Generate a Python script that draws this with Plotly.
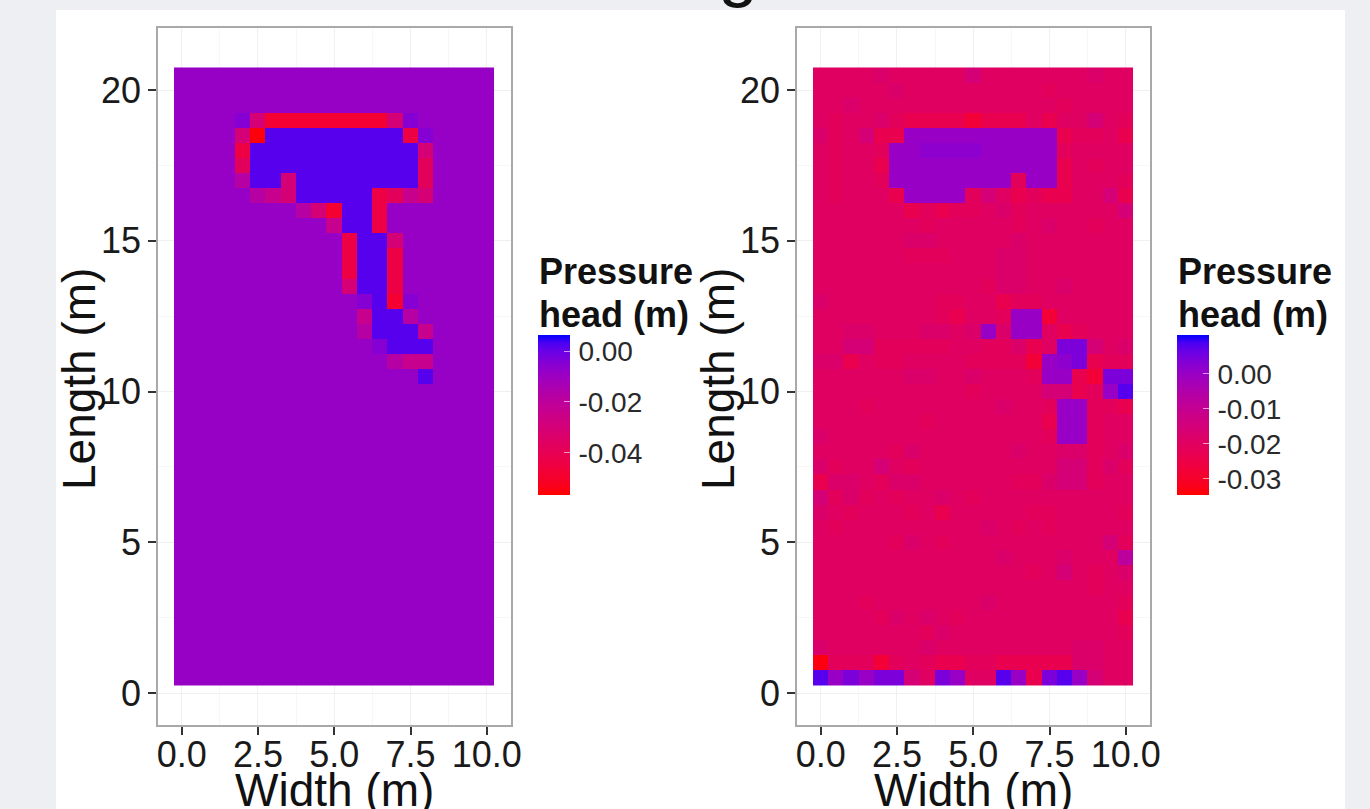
import plotly.graph_objects as go

X_CELLS = [i * 0.5 for i in range(21)]
Y_CELLS_TOP_DOWN = [20.5 - i * 0.5 for i in range(41)]

# Colour levels, in metres of pressure head
LEFT_LEVELS = {"0": -0.0553, "1": -0.0484, "2": -0.0440, "3": -0.0377, "4": -0.0302, "5": -0.0239,
               "6": -0.0176, "7": -0.0088, "8": -0.0050, "9": 0.0019}
RIGHT_LEVELS = {"0": -0.0332, "1": -0.0277, "2": -0.0236, "r": -0.0209, "3": -0.0195, "s": -0.0180,
                "4": -0.0154, "6": -0.0076, "7": 0.0001, "v": 0.0020, "8": 0.0042, "9": 0.0079}

LEFT_ROWS = [
    "777777777777777777777",
    "777777777777777777777",
    "777777777777777777777",
    "777784111111114877777",
    "777740999999999287777",
    "777729999999999947777",
    "777739999999999937777",
    "777769949999999937777",
    "777776549999923547777",
    "777777776419927777777",
    "777777777759927777777",
    "777777777772994777777",
    "777777777772992777777",
    "777777777772992777777",
    "777777777774992777777",
    "777777777777891877777",
    "777777777777599677777",
    "777777777777699957777",
    "777777777777789997777",
    "777777777777776557777",
    "777777777777777797777",
] + ["777777777777777777777"] * 20

RIGHT_ROWS = [
    "3333s3333343333333s33",
    "33333s333333333r33333",
    "33s3333333333333r3333",
    "3r33sr22221222323343r",
    "sr342277777777772rr32",
    "3r33r77vvvv77777r3333",
    "3r3327777777777723r33",
    "3r33r77777777r772333r",
    "3r33327777r432r223342",
    "3333332r2rr3sr3333334",
    "3333333r33333r3s33r33",
    "333333ss33333s3333333",
    "333333rrr333ss3333333",
    "333333333333ss3333333",
    "33333333333rss33s3333",
    "s3333333rr332rr333333",
    "33333333r233r77133333",
    "33ss333ss3s7s7732r333",
    "3344rrrrr33rrs238843s",
    "ss23rr3333rrrr17v82rr",
    "333333ss33s333r772188",
    "3333333333r3333442r79",
    "333r33333333s33r77rr2",
    "3333333r3333333277r33",
    "s33333333333333r77r33",
    "33333rs333333s33ssr3s",
    "sr3343r33333333344rsr",
    "2ss3rss333333rrs44r33",
    "4rsr3r33s3r3333333333",
    "s3r333r3233333rr3333r",
    "3r333333333s3r3r33333",
    "33333rs3r33333333334r",
    "333333333333s333s3336",
    "33333333333333r343r3s",
    "333333333333333333r33",
    "333r3333333s33333333r",
    "3333rs3s3r33333333332",
    "3333333rs33333333333r",
    "s333333s333333333ss33",
    "0rrr1r3r22rr22222ss33",
    "978788438733972897433",
]
for row in LEFT_ROWS + RIGHT_ROWS:
    assert len(row) == 21, row
assert len(LEFT_ROWS) == 41 and len(RIGHT_ROWS) == 41

LEFT_Z = [[LEFT_LEVELS[c] for c in row] for row in LEFT_ROWS]
RIGHT_Z = [[RIGHT_LEVELS[c] for c in row] for row in RIGHT_ROWS]

LEFT_RANGE = (-0.0566, 0.0063)
RIGHT_RANGE = (-0.0346, 0.0111)
LEFT_TICKS = [0.0, -0.02, -0.04]
LEFT_TICK_TEXT = ["\u200a0.00", "\u200a-0.02", "\u200a-0.04"]
RIGHT_TICKS = [0.0, -0.01, -0.02, -0.03]
RIGHT_TICK_TEXT = ["\u200a0.00", "\u200a-0.01", "\u200a-0.02", "\u200a-0.03"]
LEGEND_TITLE_LINES = ["<b>Pressure</b>", "<b>head (m)</b>"]
X_TITLE = "Width (m)"
Y_TITLE = "Length (m)"

W, H = 1370, 809
FONT = "Liberation Sans"


# red to blue, blended in Lab space as the original's colour ramp
def _f(u):
    return u ** 3 if u ** 3 > 0.008856 else (u - 16 / 116) / 7.787


def lab_to_hex(L, a, b):
    fy = (L + 16) / 116
    x, y, z = 0.95047 * _f(a / 500 + fy), _f(fy), 1.08883 * _f(fy - b / 200)
    rgb = (3.2406 * x - 1.5372 * y - 0.4986 * z,
           -0.9689 * x + 1.8758 * y + 0.0415 * z,
           0.0557 * x - 0.2040 * y + 1.0570 * z)
    out = []
    for v in rgb:
        v = max(0.0, min(1.0, v))
        v = 12.92 * v if v <= 0.0031308 else 1.055 * v ** (1 / 2.4) - 0.055
        out.append(round(v * 255))
    return "rgb(%d,%d,%d)" % tuple(out)


RED_LAB = (53.24, 80.09, 67.20)
BLUE_LAB = (32.30, 79.19, -107.86)
COLORSCALE = [[i / 20, lab_to_hex(*[p + (q - p) * i / 20 for p, q in zip(RED_LAB, BLUE_LAB)])] for i in range(21)]


def colorbar(left_px, ticks, text):
    return dict(
        x=left_px / W, xanchor="left", xpad=0, y=1 - 335 / H, yanchor="top", ypad=0,
        thickness=32, thicknessmode="pixels", len=160, lenmode="pixels", outlinewidth=0,
        tickmode="array", tickvals=ticks, ticktext=text,
        ticks="inside", ticklen=6, tickcolor="rgba(255,255,255,0.6)", tickwidth=1,
        tickfont=dict(family=FONT, size=28, color="#2a2a2a"), ticklabelposition="outside",
    )


fig = go.Figure()
fig.add_heatmap(x=X_CELLS, y=Y_CELLS_TOP_DOWN, z=LEFT_Z, colorscale=COLORSCALE, zmin=LEFT_RANGE[0], zmax=LEFT_RANGE[1],
                colorbar=colorbar(538, LEFT_TICKS, LEFT_TICK_TEXT), xaxis="x", yaxis="y")
fig.add_heatmap(x=X_CELLS, y=Y_CELLS_TOP_DOWN, z=RIGHT_Z, colorscale=COLORSCALE, zmin=RIGHT_RANGE[0], zmax=RIGHT_RANGE[1],
                colorbar=colorbar(1177, RIGHT_TICKS, RIGHT_TICK_TEXT), xaxis="x2", yaxis="y2")

common = dict(
    showline=True, mirror=True, linecolor="#a9a9a9", linewidth=1.5, zeroline=False,
    showgrid=True, gridcolor="#f0f0f0", gridwidth=1,
    ticks="outside", ticklen=8, tickwidth=1.5, tickcolor="#333333",
    tickfont=dict(family=FONT, size=36, color="#1a1a1a"),
)
xaxis = dict(common, range=[-0.775, 10.775], tick0=0, dtick=2.5, tickformat=".1f", ticklabelstandoff=-11,
             minor=dict(dtick=1.25, tick0=0, showgrid=True, gridcolor="#f7f7f7", ticks=""))
yaxis = dict(common, range=[-1.06, 22.06], tick0=0, dtick=5, tickformat="d",
             minor=dict(dtick=2.5, tick0=0, showgrid=True, gridcolor="#f7f7f7", ticks=""))

fig.update_layout(
    width=W, height=H, margin=dict(l=0, r=0, t=0, b=0, autoexpand=False), autosize=False,
    paper_bgcolor="#eeeff2", plot_bgcolor="white",
    xaxis=dict(xaxis, domain=[158 / W, 510.5 / W], anchor="y"),
    yaxis=dict(yaxis, domain=[1 - 725 / H, 1 - 28 / H], anchor="x"),
    xaxis2=dict(xaxis, domain=[797 / W, 1149.5 / W], anchor="y2"),
    yaxis2=dict(yaxis, domain=[1 - 725 / H, 1 - 28 / H], anchor="x2"),
    shapes=[dict(type="rect", xref="paper", yref="paper", x0=56 / W, x1=1345 / W, y0=0, y1=1 - 10 / H,
                 fillcolor="white", line_width=0, layer="below")],
)


def note(text, x_px, y_px, size, **kw):
    fig.add_annotation(text=text, xref="paper", yref="paper", x=x_px / W, y=1 - y_px / H, showarrow=False,
                       font=dict(family=FONT, size=size, color="#111111"), **kw)


for offset in (0, 639):
    note(X_TITLE, 334 + offset, 790, 46, xanchor="center", yanchor="middle")
    note(Y_TITLE, 79 + offset, 379, 46, xanchor="center", yanchor="middle", textangle=-90)
    note(LEGEND_TITLE_LINES[0], 537 + offset, 272, 36, xanchor="left", yanchor="middle")
    note(LEGEND_TITLE_LINES[1], 537 + offset, 314, 36, xanchor="left", yanchor="middle")
note("g", 738, 10, 72, xanchor="center", yanchor="bottom")

fig.write_html("out.html", config={"displayModeBar": False},
               post_script="document.body.style.margin='0';document.body.style.overflow='hidden';")
